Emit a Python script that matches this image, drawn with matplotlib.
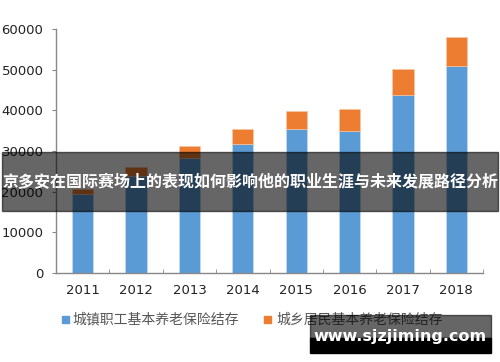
import matplotlib.pyplot as plt
from matplotlib.patches import Rectangle
import numpy as np

plt.rcParams['font.family'] = ['Noto Sans CJK SC', 'DejaVu Sans']

# ---------------------------
# Dữ liệu (亿元)
# ---------------------------
years = ['2011', '2012', '2013', '2014', '2015', '2016', '2017', '2018']
urban_workers = [19400, 23800, 28300, 31700, 35400, 34900, 43700, 50900]
urban_rural = [1200, 2200, 2900, 3700, 4400, 5400, 6400, 7100]
label_workers = '城镇职工基本养老保险结存'
label_rural = '城乡居民基本养老保险结存'
yticks = [0, 10000, 20000, 30000, 40000, 50000, 60000]

blue = '#5B9BD5'
orange = '#ED7D31'

fig = plt.figure(figsize=(5, 3.62), dpi=100)
ax = fig.add_axes([0.112, 0.246, 0.854, 0.674])

x = np.arange(len(years))
ax.bar(x, urban_workers, width=0.4, color=blue, edgecolor='#cfe0f2', linewidth=0.4)
ax.bar(x, urban_rural, width=0.4, bottom=urban_workers, color=orange,
       edgecolor='#f8c9a8', linewidth=0.4)

ax.set_xlim(-0.5, len(years) - 0.5)
ax.set_ylim(0, 60000)
ax.set_yticks(yticks)
ax.set_yticklabels([str(v) for v in yticks], fontsize=9.5, color='#222222',
                   family='DejaVu Sans')
ax.set_xticks(x)
ax.set_xticklabels(years, fontsize=9.5, color='#222222', family='DejaVu Sans')
ax.set_xticks(np.arange(-0.5, len(years)), minor=True)
ax.tick_params(axis='x', which='major', length=0, pad=8)
ax.tick_params(axis='x', which='minor', direction='in', length=3, color='#888888')
ax.tick_params(axis='y', direction='out', length=3, color='#888888', pad=6)

for s in ['top', 'right']:
    ax.spines[s].set_visible(False)
for s in ['left', 'bottom']:
    ax.spines[s].set_color('#888888')
    ax.spines[s].set_linewidth(1.0)

# legend
fig.patches.append(Rectangle((0.124, 0.107), 0.014, 0.02, transform=fig.transFigure,
                             color=blue, figure=fig))
fig.text(0.145, 0.117, label_workers, fontsize=10, color='#555555', va='center')
fig.patches.append(Rectangle((0.528, 0.107), 0.014, 0.02, transform=fig.transFigure,
                             color=orange, figure=fig))
fig.text(0.553, 0.117, label_rural, fontsize=10, color='#555555', va='center')

# banner
fig.patches.append(Rectangle((0.004, 1 - 211 / 362), 0.992, 59 / 362,
                             transform=fig.transFigure, color='black', alpha=0.6,
                             figure=fig, zorder=10))
fig.text(0.5, 1 - 182 / 362, '京多安在国际赛场上的表现如何影响他的职业生涯与未来发展路径分析',
         fontsize=11.5, color='white', fontweight='bold', ha='center', va='center',
         zorder=11)

# watermark
fig.patches.append(Rectangle((310 / 500, 1 - 338 / 362), 181 / 500, 23 / 362,
                             transform=fig.transFigure, color='black', alpha=0.6,
                             figure=fig, zorder=10))
fig.patches.append(Rectangle((310 / 500, 1 - 353 / 362), 181 / 500, 15 / 362,
                             transform=fig.transFigure, color='black',
                             figure=fig, zorder=10))
fig.text(400 / 500, 1 - 336 / 362, 'www.sjzjiming.com', fontsize=11.5, color='white',
         fontweight='bold', ha='center', va='center', family='DejaVu Sans', zorder=11)

fig.savefig('out.png', dpi=100)
